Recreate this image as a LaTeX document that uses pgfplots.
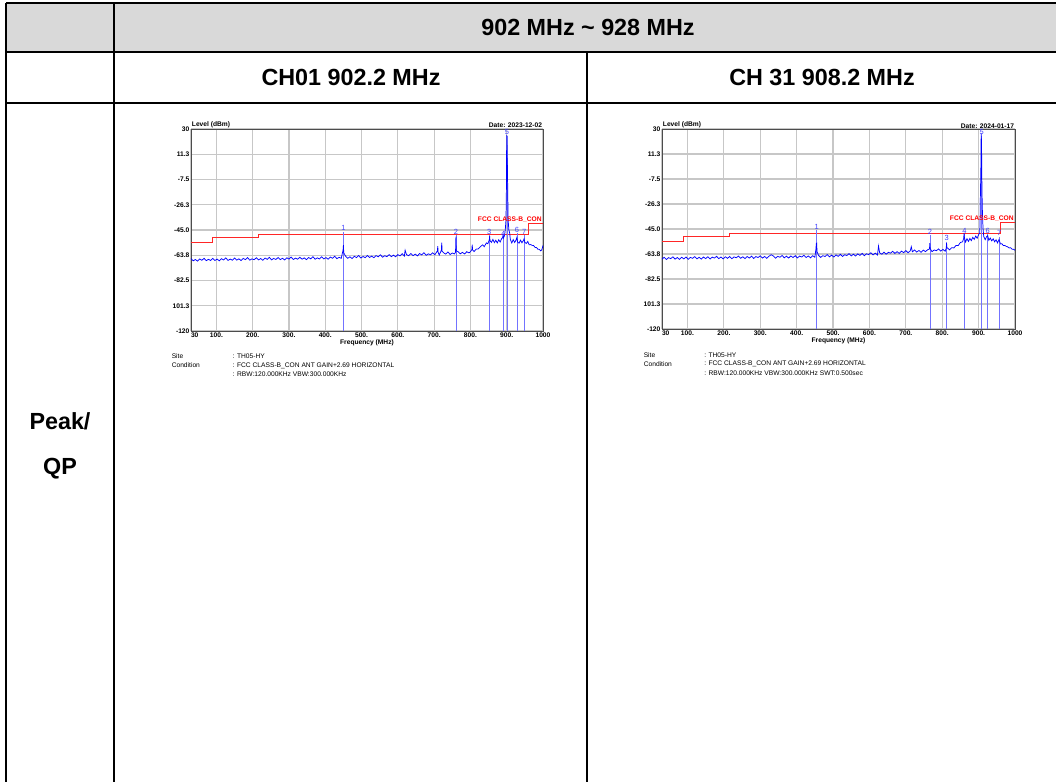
\documentclass[border=0pt]{standalone}
\usepackage{fontspec}
\setmainfont{Liberation Sans}
\usepackage{pgfplots}
\usepackage{pgfplotstable}
\pgfplotsset{compat=1.18}

\newcommand{\sm}{\fontsize{5}{6}\selectfont}
\newcommand{\hdr}{\fontsize{17.5}{20}\selectfont\bfseries}

% limit line, same for both channels
\pgfplotstableread{
x y
30 -54.3
88 -50.8
216 -48.3
960 -40.3
1000 -40.3
}\limit

% CH01 trace
\pgfplotstableread{
x y
30 -66.3
36 -67.9
42 -66.9
48 -68.1
54 -66.5
60 -67.5
66 -66.0
72 -67.8
78 -66.8
84 -67.6
90 -66.1
96 -67.6
102 -66.6
108 -67.9
114 -66.3
120 -67.3
126 -65.7
132 -67.6
138 -66.6
144 -67.4
150 -65.8
156 -67.4
162 -66.4
168 -67.7
174 -66.1
180 -67.0
186 -65.5
192 -67.4
198 -66.4
204 -67.1
210 -65.6
216 -67.2
222 -66.2
228 -67.5
234 -65.8
240 -66.8
246 -65.3
252 -67.2
258 -66.1
264 -66.9
270 -65.4
276 -67.0
282 -66.0
288 -67.2
294 -65.6
300 -66.6
306 -65.1
312 -66.9
318 -65.9
324 -66.7
330 -65.2
336 -66.7
342 -65.7
348 -67.0
354 -65.4
360 -66.4
366 -64.8
372 -66.7
378 -65.7
384 -66.5
390 -64.9
396 -66.5
402 -65.5
408 -66.7
414 -65.1
420 -66.0
426 -64.5
432 -66.3
438 -65.3
444 -66.0
449 -60.0
450 -56.3
451 -62.0
456 -64.4
462 -66.0
468 -64.9
474 -66.2
480 -64.5
486 -65.5
492 -63.9
498 -65.8
504 -64.7
510 -65.5
516 -63.9
522 -65.4
528 -64.4
534 -65.6
540 -64.0
546 -64.9
552 -63.4
558 -65.2
564 -64.1
570 -64.8
576 -63.3
582 -64.8
588 -63.7
594 -64.9
600 -63.3
606 -64.2
612 -62.6
618 -64.4
620 -60.0
624 -63.3
630 -64.1
636 -62.5
642 -64.0
648 -62.9
654 -64.2
660 -62.5
666 -63.5
672 -61.9
678 -63.8
684 -62.7
690 -63.4
696 -61.9
702 -63.4
709 -60.5
710 -57.0
711 -61.5
714 -63.6
720 -60.0
721 -54.3
722 -60.8
726 -61.9
732 -62.9
738 -61.3
744 -63.2
750 -62.1
756 -62.8
759 -61.5
760 -50.0
761 -60.5
766 -61.1
772 -62.7
778 -61.6
784 -62.8
790 -61.1
796 -62.0
800 -61.2
804 -59.5
805 -55.8
806 -59.8
810 -61.0
816 -59.2
822 -59.0
828 -57.2
834 -56.0
838 -57.4
844 -54.6
848 -55.2
852 -52.4
853 -49.6
854 -52.9
858 -54.2
862 -52.0
866 -54.4
870 -52.6
874 -54.6
878 -52.3
882 -53.9
886 -51.4
889 -50.6
890 -47.8
891 -50.9
894 -49.2
896 -45.0
898 -37.6
899 -20.0
900 25.5
901 10.0
902 2.0
903 -20.0
904 -38.0
906 -45.0
908 -47.0
910 -52.0
914 -54.6
918 -52.1
922 -54.3
926 -52.2
928 -50.5
930 -53.9
934 -54.8
938 -52.5
942 -54.5
946 -52.8
948 -51.5
950 -54.2
954 -55.0
958 -53.5
962 -56.0
966 -55.8
970 -56.4
974 -56.5
978 -57.9
982 -58.0
986 -59.3
990 -59.4
994 -60.5
997 -59.5
1000 -56.5
}\traceA

% CH 31 trace
\pgfplotstableread{
x y
30 -67.6
36 -66.2
42 -67.9
48 -66.5
54 -67.2
60 -65.9
66 -67.6
72 -66.4
78 -67.8
84 -66.2
90 -67.4
96 -66.0
102 -67.7
108 -66.3
114 -67.0
120 -65.7
126 -67.4
132 -66.2
138 -67.6
144 -66.0
150 -67.2
156 -65.8
162 -67.5
168 -66.1
174 -66.8
180 -65.5
186 -67.2
192 -66.0
198 -67.4
204 -65.8
210 -67.0
216 -65.6
222 -67.3
228 -65.9
234 -66.6
240 -65.3
246 -67.0
252 -65.8
258 -67.2
264 -65.6
270 -66.8
276 -65.4
282 -67.1
288 -65.7
294 -66.4
300 -65.1
306 -66.8
312 -65.6
318 -67.0
324 -65.4
330 -64.3
336 -65.2
342 -66.9
348 -65.5
354 -66.2
360 -64.9
366 -66.6
372 -65.4
378 -66.8
384 -65.2
390 -66.4
396 -65.0
402 -66.7
408 -65.3
414 -66.0
420 -64.7
426 -66.4
432 -65.2
438 -66.6
444 -65.0
450 -66.2
453 -60.0
454 -56.0
455 -55.7
456 -62.0
460 -64.7
466 -66.3
472 -65.0
478 -65.6
484 -64.2
490 -65.9
496 -64.6
502 -66.0
508 -64.4
514 -65.5
520 -64.0
526 -65.6
532 -64.3
538 -64.9
544 -63.5
550 -65.2
556 -63.9
562 -65.3
568 -63.7
574 -64.8
580 -63.3
586 -65.0
592 -63.6
598 -64.2
604 -62.8
610 -64.4
616 -63.1
622 -64.5
625 -57.8
628 -62.8
634 -63.9
640 -62.3
646 -63.9
652 -62.5
658 -63.1
664 -61.7
670 -63.3
676 -62.0
682 -63.3
688 -61.6
694 -62.7
700 -61.2
706 -62.8
712 -61.5
715 -58.3
718 -62.1
724 -60.7
730 -62.3
736 -61.1
742 -62.5
748 -60.8
754 -62.0
760 -60.5
765 -60.0
766 -55.7
767 -59.8
772 -62.0
778 -60.7
784 -61.3
790 -59.9
796 -61.6
802 -60.3
808 -61.7
811 -59.5
812 -55.7
813 -59.0
816 -59.6
820 -60.6
826 -59.0
832 -59.2
838 -57.3
844 -57.4
850 -55.1
856 -54.6
859 -52.0
860 -48.0
861 -51.5
864 -54.8
868 -52.3
872 -54.3
876 -52.1
880 -53.7
884 -51.2
888 -52.8
892 -50.3
896 -51.9
900 -49.2
903 -48.0
904 -40.0
905 -17.0
906 -5.0
907 26.8
908 20.0
909 -10.0
910 -28.0
912 -44.0
914 -50.5
918 -53.0
922 -50.7
925 -50.0
928 -53.5
932 -51.8
936 -53.9
940 -52.4
944 -54.6
948 -53.1
952 -55.4
956 -52.9
960 -56.2
964 -56.1
968 -57.4
972 -57.4
976 -58.0
980 -58.4
984 -59.2
988 -59.0
992 -60.2
996 -60.1
1000 -61.0
}\traceB

% markers: frequency, level, number
\pgfplotstableread{
x top lab
450.2 -46.3 1
760.2 -48.9 2
852.0 -48.7 3
890.6 -50.4 4
900.8 25.0 5
928.4 -47.5 6
948.5 -48.8 7
}\markA

\pgfplotstableread{
x top lab
455.0 -45.8 1
766.4 -49.5 2
812.3 -54.5 3
860.8 -48.8 4
908.5 25.0 5
925.0 -48.8 6
956.9 -50.8 7
}\markB

\pgfplotsset{
  emi/.style={
    scale only axis, clip=false,
    xmin=30, xmax=1000, ymin=-120, ymax=30,
    xtick={30,100,200,300,400,500,600,700,800,900,1000},
    xticklabels={\makebox[0pt][l]{30},100.,200.,300.,400.,500.,600.,700.,800.,900.,1000},
    ytick={-120,-101.25,-82.5,-63.75,-45,-26.25,-7.5,11.25,30},
    yticklabels={-120,101.3,-82.5,-63.8,-45.0,-26.3,-7.5,11.3,30},
    tick label style={font=\sm\bfseries, inner sep=1pt},
    major tick length=0pt,
    grid=major, major grid style={black!22, line width=0.9pt},
    axis line style={black!70, line width=0.6pt},
    xlabel={Frequency (MHz)},
    xlabel style={font=\sm\bfseries, inner sep=0.5pt},
  },
  lim/.style={const plot, color=red!85, line width=0.6pt, mark=none},
  trc/.style={color=blue, line width=0.55pt, mark=none},
  mk/.style={only marks, mark=none,
    nodes near coords, point meta=explicit symbolic,
    nodes near coords style={font=\fontsize{5.6}{6}\selectfont, text=blue!75, anchor=south, inner sep=0.4pt},
    error bars/.cd, y dir=minus, y explicit, error mark=none,
    error bar style={draw=blue!55, line width=0.6pt}},
}

\begin{document}
\begin{tikzpicture}
\begin{scope}[x=0.75pt, y=-0.75pt]
  \path[use as bounding box] (0,0) rectangle (1056,782);
  \fill[black!15] (6,3) rectangle (1056,52);
  \draw[line width=1.5pt] (6,3) -- (1056,3);
  \draw[line width=1.5pt] (6,52) -- (1056,52);
  \draw[line width=1.5pt] (6,103) -- (1056,103);
  \draw[line width=1.5pt] (6,3) -- (6,782);
  \draw[line width=1.5pt] (114,3) -- (114,782);
  \draw[line width=1.5pt] (587,52) -- (587,782);
  \node[font=\hdr] at (588,27.5) {902 MHz \char`\~{} 928 MHz};
  \node[font=\hdr] at (351,77.5) {CH01 902.2 MHz};
  \node[font=\hdr] at (822,77.5) {CH 31 908.2 MHz};
  \node[font=\hdr] at (60,421) {Peak/};
  \node[font=\hdr] at (60,469) {QP};
  % measurement notes under each plot
  \begin{scope}[every node/.style={font=\fontsize{5}{6}\selectfont, anchor=west, inner sep=0pt}]
    \node at (171.5,356.5) {Site};
    \node at (171.5,365.5) {Condition};
    \node at (232.5,356.5) {: TH05-HY};
    \node at (232.5,365.5) {: FCC CLASS-B\_CON ANT GAIN+2.69 HORIZONTAL};
    \node at (232.5,374.5) {: RBW:120.000KHz VBW:300.000KHz};
    \node at (643.5,355) {Site};
    \node at (643.5,364) {Condition};
    \node at (704,355) {: TH05-HY};
    \node at (704,364) {: FCC CLASS-B\_CON ANT GAIN+2.69 HORIZONTAL};
    \node at (704,373) {: RBW:120.000KHz VBW:300.000KHz SWT:0.500sec};
  \end{scope}
\end{scope}

\begin{axis}[emi, at={(143.25pt,-248.25pt)}, anchor=south west,
  width=264pt, height=151.5pt]
  \addplot[lim] table {\limit};
  \addplot[mk] table[x=x, y=top, y error expr=\thisrow{top}+120, meta=lab] {\markA};
  \addplot[trc] table {\traceA};
  \node[font=\sm\bfseries, anchor=south west, inner sep=0.5pt] at (rel axis cs:0,1) {Level (dBm)};
  \node[font=\sm\bfseries, anchor=south east, inner sep=0.5pt] at (rel axis cs:1,1) {Date: 2023-12-02};
  \node[font=\sm\bfseries, text=red, anchor=south east, inner sep=0.8pt] at (axis cs:1000,-40.3) {FCC CLASS-B\_CON};
\end{axis}

\begin{axis}[emi, at={(496.5pt,-246.75pt)}, anchor=south west,
  width=264.75pt, height=150pt]
  \addplot[lim] table {\limit};
  \addplot[mk] table[x=x, y=top, y error expr=\thisrow{top}+120, meta=lab] {\markB};
  \addplot[trc] table {\traceB};
  \node[font=\sm\bfseries, anchor=south west, inner sep=0.5pt] at (rel axis cs:0,1) {Level (dBm)};
  \node[font=\sm\bfseries, anchor=south east, inner sep=0.5pt] at (rel axis cs:1,1) {Date: 2024-01-17};
  \node[font=\sm\bfseries, text=red, anchor=south east, inner sep=0.8pt] at (axis cs:1000,-40.3) {FCC CLASS-B\_CON};
\end{axis}
\end{tikzpicture}
\end{document}
